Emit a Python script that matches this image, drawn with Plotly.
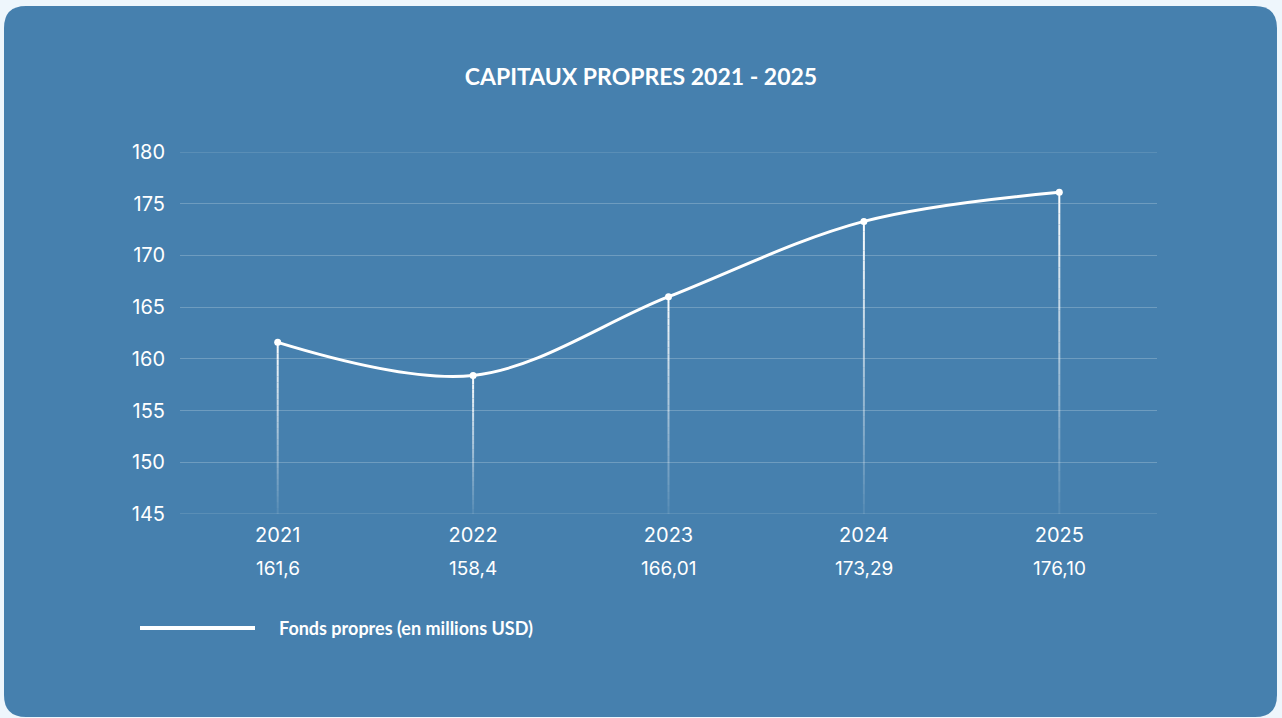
import plotly.graph_objects as go

years = ["2021", "2022", "2023", "2024", "2025"]
values = [161.6, 158.4, 166.01, 173.29, 176.10]
value_labels = ["161,6", "158,4", "166,01", "173,29", "176,10"]
y_ticks = [145, 150, 155, 160, 165, 170, 175, 180]
series_name = "Fonds propres (en millions USD)"
title_text = "CAPITAUX PROPRES 2021 - 2025"

W, H = 1282, 718
ML, MR, MT, MB = 180, 125, 152, 204
PW, PH = W - ML - MR, H - MT - MB


def fx(px):
    return (px - ML) / PW


def fy(py):
    return 1 - (py - MT) / PH


# rounded card path in paper coords
x0, x1, y0, y1, r = 4, 1277, 6, 717, 22
def P(px, py):
    return f"{fx(px):.5f},{fy(py):.5f}"

card = (f"M {P(x0 + r, y0)} L {P(x1 - r, y0)} Q {P(x1, y0)} {P(x1, y0 + r)} "
        f"L {P(x1, y1 - r)} Q {P(x1, y1)} {P(x1 - r, y1)} "
        f"L {P(x0 + r, y1)} Q {P(x0, y1)} {P(x0, y1 - r)} "
        f"L {P(x0, y0 + r)} Q {P(x0, y0)} {P(x0 + r, y0)} Z")

x_idx = list(range(len(years)))

fig = go.Figure()

shapes = [dict(type="path", path=card, xref="paper", yref="paper",
               fillcolor="#4680AE", line=dict(width=0), layer="below")]

# edge grid lines (plotly omits grid lines at the range bounds)
for yv in (y_ticks[0], y_ticks[-1]):
    shapes.append(dict(type="line", xref="paper", yref="y", x0=0, x1=1, y0=yv, y1=yv,
                       line=dict(color="rgba(255,255,255,0.22)", width=1), layer="below"))

# fading drop lines
n_seg = 30
base = y_ticks[0]
for i, v in zip(x_idx, values):
    for k in range(n_seg):
        a = base + (v - base) * k / n_seg
        b = base + (v - base) * (k + 1) / n_seg
        op = 0.08 + 0.92 * ((k + 0.5) / n_seg)
        shapes.append(dict(type="line", xref="x", yref="y", x0=i, x1=i, y0=a, y1=b,
                           line=dict(color=f"rgba(255,255,255,{op:.3f})", width=2),
                           layer="above"))

# legend line
shapes.append(dict(type="line", xref="paper", yref="paper",
                   x0=fx(140), x1=fx(255), y0=fy(628), y1=fy(628),
                   line=dict(color="white", width=4)))

fig.add_trace(go.Scatter(
    x=x_idx, y=values, mode="lines+markers",
    line=dict(color="white", width=3, shape="spline", smoothing=1.0),
    marker=dict(color="white", size=7),
    name=series_name, showlegend=False, hoverinfo="skip"))

annotations = []
for i, lab in zip(x_idx, value_labels):
    annotations.append(dict(x=i, y=fy(568), xref="x", yref="paper", text=lab,
                            showarrow=False, xanchor="center", yanchor="middle",
                            font=dict(family="Inter", size=19, color="white")))
annotations.append(dict(x=fx(277), y=fy(628), xref="paper", yref="paper",
                        text=f"<b>{series_name}</b>", showarrow=False,
                        xanchor="left", yanchor="middle",
                        font=dict(family="Lato", size=18, color="white")))

fig.update_layout(
    width=W, height=H,
    margin=dict(l=ML, r=MR, t=MT, b=MB),
    paper_bgcolor="#EEF6FC",
    plot_bgcolor="rgba(0,0,0,0)",
    title=dict(text=f"<b>{title_text}</b>", x=0.5, xref="container",
               y=1 - 77 / H, yref="container",
               xanchor="center", yanchor="middle",
               font=dict(family="Lato", size=23, color="white")),
    shapes=shapes,
    annotations=annotations,
    xaxis=dict(range=[-0.5, len(years) - 0.5], tickvals=x_idx, ticktext=years,
               showgrid=False, zeroline=False, showline=False,
               tickfont=dict(family="Inter", size=20, color="white"),
               ticks="", ticklabelstandoff=7, fixedrange=True),
    yaxis=dict(range=[y_ticks[0], y_ticks[-1]], tickvals=y_ticks,
               showgrid=True, gridcolor="rgba(255,255,255,0.22)", gridwidth=1,
               zeroline=False, showline=False,
               tickfont=dict(family="Inter", size=20, color="white"),
               ticks="", ticklabelstandoff=14, fixedrange=True),
    showlegend=False,
)

fig.write_html("out.html", config={"displayModeBar": False})
